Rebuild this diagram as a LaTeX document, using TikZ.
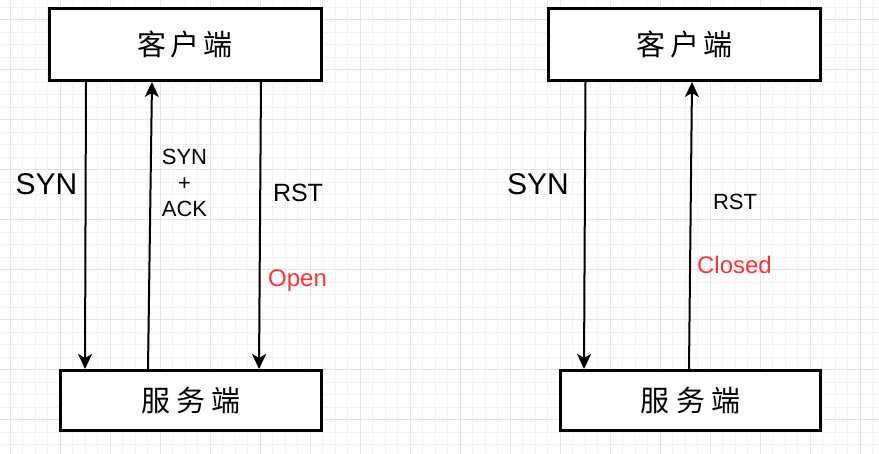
\documentclass[tikz,border=0pt]{standalone}
\usepackage{fontspec}
\setmainfont{Liberation Sans}
\newfontfamily\cjk{Noto Sans CJK SC}
\usetikzlibrary{arrows.meta}
\definecolor{gridminor}{HTML}{F2F2F2}
\definecolor{gridmajor}{HTML}{E4E4E4}
\definecolor{portred}{HTML}{FF3333}

\begin{document}
\begin{tikzpicture}[
					x=1pt,y=-1pt,
					box/.style={rectangle,draw,line width=3pt,fill=white,inner sep=0pt},
					cli/.style={box,minimum width=272pt,minimum height=72pt},
					srv/.style={box,minimum width=261pt,minimum height=60pt},
					msg/.style={-{Stealth[length=15pt,width=14pt,inset=4pt]},line width=2pt},
					lbl/.style={anchor=base,inner sep=0pt},
					]
					\useasboundingbox (0,0) rectangle (879,454);
					% background grid
					\foreach \x in {10,22.5,...,879} \draw[gridminor,line width=1pt] (\x,0) -- (\x,454);
					\foreach \y in {7.5,20,...,454} \draw[gridminor,line width=1pt] (0,\y) -- (879,\y);
					\foreach \x in {10,60,...,879} \draw[gridmajor,line width=1pt] (\x,0) -- (\x,454);
					\foreach \y in {20,70,...,454} \draw[gridmajor,line width=1pt] (0,\y) -- (879,\y);
					% left: open port
					\node [cli] (lcli) at (185,44.5) {\fontsize{29}{34}\selectfont\cjk 客\hspace{4.5pt}户\hspace{4.5pt}端};
					\node [srv] (lsrv) at (191,400.5) {\fontsize{29}{34}\selectfont\cjk 服\hspace{6.5pt}务\hspace{6.5pt}端};
					\draw[msg] (lcli.south -| 86,0) -- (lsrv.north -| 85,0);
					\draw[msg] (lsrv.north -| 148,0) -- (lcli.south -| 152,0);
					\draw[msg] (lcli.south -| 261,0) -- (lsrv.north -| 259,0);
					\node [lbl,font=\fontsize{30}{36}\selectfont] (lsyn) at (46.5,195) {SYN};
					\node [inner sep=0pt,align=center,font=\fontsize{22}{26}\selectfont] (lsynack) at (184.5,183) {SYN\\+\\ACK};
					\node [lbl,font=\fontsize{25}{30}\selectfont] (lrst) at (298,202) {RST};
					\node [lbl,font=\fontsize{24}{29}\selectfont,text=portred] (lopen) at (297.5,287) {Open};
					% right: closed port
					\node [cli] (rcli) at (684.5,44.5) {\fontsize{29}{34}\selectfont\cjk 客\hspace{4.5pt}户\hspace{4.5pt}端};
					\node [srv,minimum width=260pt] (rsrv) at (690.5,400.5) {\fontsize{29}{34}\selectfont\cjk 服\hspace{6.5pt}务\hspace{6.5pt}端};
					\draw[msg] (rcli.south -| 585.5,0) -- (rsrv.north -| 584,0);
					\draw[msg] (rsrv.north -| 689,0) -- (rcli.south -| 692,0);
					\node [lbl,font=\fontsize{30}{36}\selectfont] (rsyn) at (538,195) {SYN};
					\node [lbl,font=\fontsize{22}{26}\selectfont] (rrst) at (735,210) {RST};
					\node [lbl,font=\fontsize{24}{29}\selectfont,text=portred] (rclosed) at (734.5,274) {Closed};
				\end{tikzpicture}
\end{document}
